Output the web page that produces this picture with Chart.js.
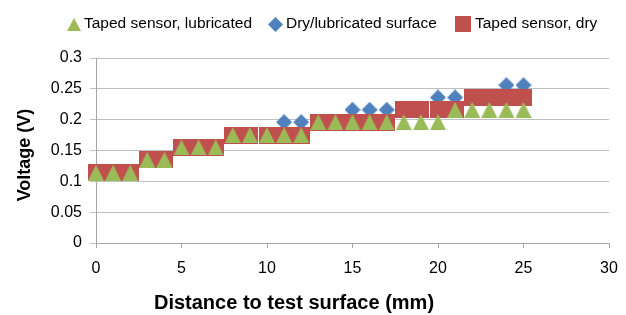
<!DOCTYPE html>
<html>
<head>
<meta charset="utf-8">
<script src="https://cdn.jsdelivr.net/npm/chart.js@4.4.1/dist/chart.umd.min.js"></script>
<style>
html,body{margin:0;padding:0;background:#fff;}
#wrap{position:relative;width:626px;height:315px;}
</style>
</head>
<body>
<div id="wrap"><canvas id="c" width="626" height="315"></canvas></div>
<script>
// ---- data ----
const distances = [0,1,2,3,4,5,6,7,8,9,10,11,12,13,14,15,16,17,18,19,20,21,22,23,24,25];
const tapedLubricated = [0.114,0.114,0.114,0.135,0.135,0.155,0.155,0.155,0.175,0.175,0.175,0.175,0.175,0.196,0.196,0.196,0.196,0.196,0.196,0.196,0.196,0.216,0.216,0.216,0.216,0.216];
const dryLubricated   = [0.114,0.114,0.114,0.135,0.135,0.155,0.155,0.155,0.175,0.175,0.175,0.196,0.196,0.196,0.196,0.216,0.216,0.216,0.216,0.216,0.236,0.236,0.236,0.236,0.256,0.256];
const tapedDry        = [0.114,0.114,0.114,0.135,0.135,0.155,0.155,0.155,0.175,0.175,0.175,0.175,0.175,0.196,0.196,0.196,0.196,0.196,0.216,0.216,0.216,0.216,0.236,0.236,0.236,0.236];
const seriesNames = ["Taped sensor, lubricated","Dry/lubricated surface","Taped sensor, dry"];
const xTickLabels = ["0","5","10","15","20","25","30"];
const yTickLabels = ["0","0.05","0.1","0.15","0.2","0.25","0.3"];

const GREEN = "#9BBB59", BLUE = "#4F81BD", RED = "#C0504D";

function makeMarker(kind, w, h, color){
  const cv = document.createElement('canvas');
  cv.width = w; cv.height = h;
  const g = cv.getContext('2d');
  g.fillStyle = color;
  g.beginPath();
  if(kind === 'tri'){ g.moveTo(w/2,0); g.lineTo(w,h); g.lineTo(0,h); }
  else if(kind === 'dia'){ g.moveTo(w/2,0); g.lineTo(w,h/2); g.lineTo(w/2,h); g.lineTo(0,h/2); }
  else { g.rect(0,0,w,h); }
  g.closePath(); g.fill();
  return cv;
}
const triM = makeMarker('tri',16,16,GREEN);
const diaM = makeMarker('dia',16,16,BLUE);
const sqM  = makeMarker('sq',17,17,RED);
const triL = makeMarker('tri',14,13,GREEN);
const diaL = makeMarker('dia',15,15,BLUE);
const sqL  = makeMarker('sq',16,16,RED);

const toPts = arr => arr.map((v,i)=>({x:distances[i], y:v}));

const FONT = "'Liberation Sans', Arial, sans-serif";

const overlay = {
  id:'overlay',
  afterDraw(chart){
    const ctx = chart.ctx;
    ctx.save();
    // legend
    ctx.font = "15.5px " + FONT;
    ctx.fillStyle = "#000";
    ctx.textBaseline = "middle";
    ctx.textAlign = "left";
    const ly = 24;
    const items = [[triL,74,84,seriesNames[0]],[diaL,275,286,seriesNames[1]],[sqL,463,475,seriesNames[2]]];
    items.forEach(([m,cx,tx,t])=>{
      ctx.drawImage(m, Math.round(cx - m.width/2), Math.round(ly - m.height/2));
      ctx.fillText(t, tx, ly);
    });
    // axis titles
    ctx.font = "bold 20px " + FONT;
    ctx.textAlign = "center";
    ctx.fillText("Distance to test surface (mm)", 294, 303);
    ctx.translate(25,155);
    ctx.rotate(-Math.PI/2);
    ctx.font = "bold 18px " + FONT;
    ctx.fillText("Voltage (V)", 0, 0);
    ctx.restore();
  }
};

new Chart(document.getElementById('c'), {
  type:'scatter',
  data:{
    datasets:[
      {label:seriesNames[0], data:toPts(tapedLubricated), pointStyle:triM, order:0, clip:false, showLine:false},
      {label:seriesNames[2], data:toPts(tapedDry), pointStyle:sqM, order:1, clip:false, showLine:false},
      {label:seriesNames[1], data:toPts(dryLubricated), pointStyle:diaM, order:2, clip:false, showLine:false}
    ]
  },
  options:{
    responsive:false,
    animation:false,
    events:[],
    layout:{padding:{left:0, right:17, top:58, bottom:0}},
    plugins:{legend:{display:false}, tooltip:{enabled:false}},
    scales:{
      x:{
        type:'linear', min:0, max:30,
        afterFit(s){ s.height = 72; s.paddingRight = 0; s.paddingLeft = 0; },
        ticks:{stepSize:5, color:"#000", font:{family:FONT, size:16}, padding:11,
          callback:(v)=> xTickLabels[Math.round(v/5)] ?? ""},
        grid:{drawOnChartArea:false, drawTicks:true, tickLength:5, color:"#A6A6A6"},
        border:{display:true, color:"#A6A6A6", width:1}
      },
      y:{
        type:'linear', min:0, max:0.3,
        afterFit(s){ s.width = 96; s.paddingTop = 0; s.paddingBottom = 0; },
        ticks:{stepSize:0.05, color:"#000", font:{family:FONT, size:16}, padding:8,
          callback:(v)=> yTickLabels[Math.round(v/0.05)] ?? ""},
        grid:{color:"#BFBFBF", lineWidth:1, tickLength:6, drawTicks:true},
        border:{display:true, color:"#A6A6A6", width:1}
      }
    }
  },
  plugins:[overlay]
});
</script>
</body>
</html>
